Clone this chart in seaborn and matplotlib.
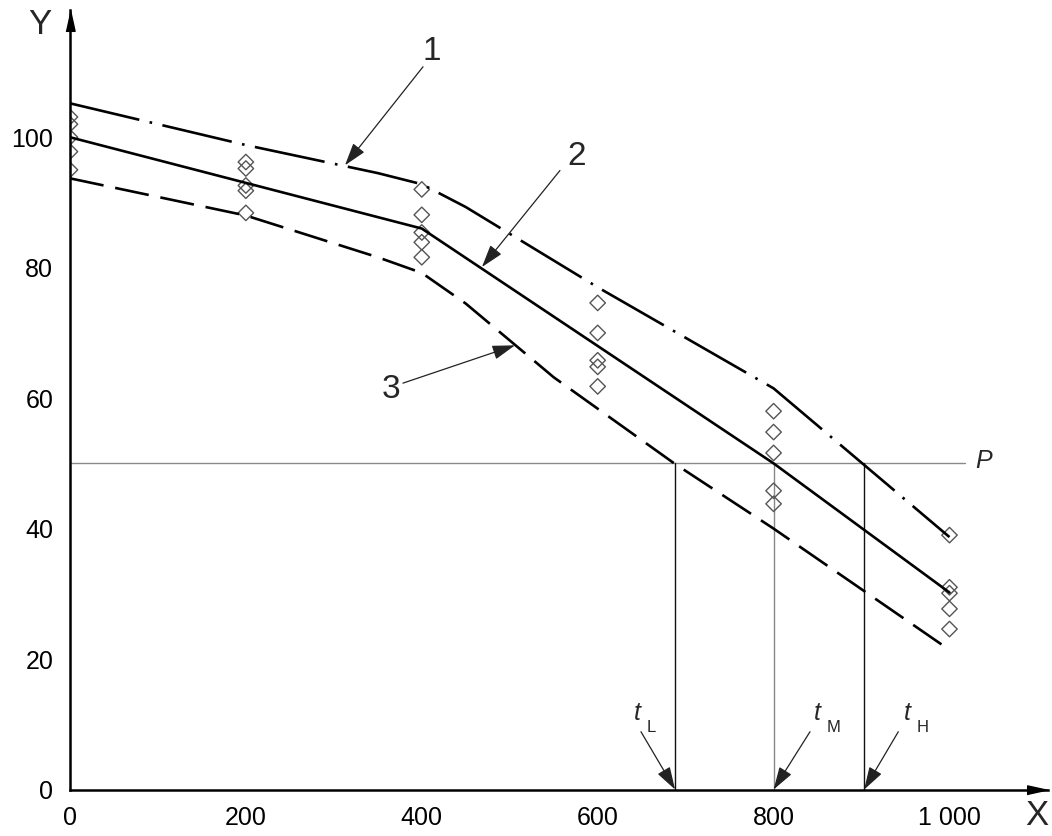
import numpy as np
import pandas as pd
import matplotlib
matplotlib.use("Agg")
import matplotlib.pyplot as plt
import seaborn as sns

# ---------------- data ----------------
curve1_x = [0, 200, 350, 400, 450, 600, 800, 1000]
curve1_y = [105.2, 98.8, 94.5, 92.8, 89.3, 77.0, 61.5, 38.7]
curve2_x = [0, 200, 400, 600, 800, 1000]
curve2_y = [100.0, 93.0, 86.0, 68.0, 50.0, 30.2]
curve3_x = [0, 200, 350, 400, 450, 550, 687, 800, 1000]
curve3_y = [93.7, 88.0, 81.6, 79.2, 74.5, 63.2, 50.0, 40.0, 21.4]

point_x = [0] * 5 + [200] * 5 + [400] * 5 + [600] * 5 + [800] * 5 + [1000] * 5
point_y = [103.1, 102.0, 100.0, 97.8, 95.0,
           96.2, 95.2, 92.6, 91.8, 88.4,
           92.0, 88.1, 85.4, 83.9, 81.6,
           74.6, 70.0, 65.8, 64.8, 61.8,
           58.0, 54.8, 51.6, 45.8, 43.8,
           39.0, 31.0, 30.1, 27.7, 24.6]

p_level = 50
t_names = ["L", "M", "H"]
t_values = [688, 800, 903]
t_colors = ["#111111", "#888888", "#111111"]

x_major = [0, 200, 400, 600, 800, 1000]
x_labels = ["0", "200", "400", "600", "800", "1 000"]
y_major = [0, 20, 40, 60, 80, 100]
y_labels = ["0", "20", "40", "60", "80", "100"]

# ---------------- style ----------------
sns.set_style("white")
plt.rcParams["font.family"] = ["Liberation Sans", "DejaVu Sans"]

fig = plt.figure(figsize=(10.52, 8.36), dpi=100)
ax = fig.add_axes([0.0665, 0.0556, 0.9297, 0.9324])
XMAX, YMAX = 1112, 119.5
ax.set_xlim(0, XMAX)
ax.set_ylim(0, YMAX)

df = pd.concat([
    pd.DataFrame({"x": curve1_x, "y": curve1_y, "curve": "1"}),
    pd.DataFrame({"x": curve2_x, "y": curve2_y, "curve": "2"}),
    pd.DataFrame({"x": curve3_x, "y": curve3_y, "curve": "3"}),
])

# reference P line and t verticals (behind)
ax.plot([0, 1018], [p_level, p_level], color="#8a8a8a", lw=1.0, zorder=1)
for tv, tc in zip(t_values, t_colors):
    ax.plot([tv, tv], [0, p_level], color=tc, lw=1.0, zorder=1)

sns.scatterplot(x=point_x, y=point_y, ax=ax, marker="D", s=62,
                facecolor="none", edgecolor="#555555", linewidth=1.0,
                zorder=2, legend=False)

sns.lineplot(data=df, x="x", y="y", style="curve",
             dashes={"1": (27, 4, 1, 4), "2": "", "3": (13, 4.5)},
             color="black", lw=1.9, estimator=None, sort=False,
             legend=False, ax=ax, zorder=3)

# ---------------- axes ----------------
for s in ["top", "right"]:
    ax.spines[s].set_visible(False)
for s in ["left", "bottom"]:
    ax.spines[s].set_linewidth(1.8)
    ax.spines[s].set_color("black")

ax.set_xticks(x_major)
ax.set_xticklabels(x_labels)
ax.set_xticks([100, 300, 500, 700, 900], minor=True)
ax.set_yticks(y_major)
ax.set_yticklabels(y_labels)
ax.set_yticks([10, 30, 50, 70, 90, 110], minor=True)
ax.tick_params(which="major", direction="in", length=11, width=1.1,
               labelsize=18, colors="black")
ax.tick_params(which="minor", direction="in", length=6, width=1.1)
ax.tick_params(axis="x", which="major", pad=12)
ax.tick_params(axis="y", which="major", pad=12)
ax.set_xlabel("")
ax.set_ylabel("")

# axis arrowheads
up = [(-0.22, -1), (0.22, -1), (0, 0)]
right = [(-1, -0.22), (-1, 0.22), (0, 0)]
ax.plot([0], [YMAX], marker=up, ms=30, color="black", clip_on=False, zorder=5)
ax.plot([XMAX], [0], marker=right, ms=30, color="black", clip_on=False, zorder=5)

ax.text(-34, 117.3, "Y", fontsize=25, ha="center", va="center")
ax.text(1099, -4.0, "X", fontsize=25, ha="center", va="center", clip_on=False)

# callouts
arrow_kw = dict(arrowstyle="-|>,head_length=0.7,head_width=0.22",
                color="#222222", lw=0.9, shrinkA=0, shrinkB=0,
                mutation_scale=20)
callouts = [("1", (411.6, 113.2), (401.4, 110.8), (312.7, 95.7)),
            ("2", (576.5, 97.0), (557.1, 94.9), (468.4, 80.1)),
            ("3", (365.0, 61.3), (378.6, 62.3), (506.0, 68.1))]
for lab, tpos, start, tip in callouts:
    ax.text(*tpos, lab, fontsize=24, ha="center", va="center")
    ax.annotate("", xy=tip, xytext=start, arrowprops=arrow_kw)

ax.text(1039, 50.4, "P", fontsize=18, style="italic", ha="center", va="center")

t_text_x = [645.3, 850.0, 952.2]
t_sub_x = [661.4, 868.6, 969.3]
t_start_x = [649.2, 841.4, 941.8]
for name, tv, tx, sx, st in zip(t_names, t_values, t_text_x, t_sub_x, t_start_x):
    ax.text(tx, 11.7, "t", fontsize=18, style="italic", ha="center", va="center")
    ax.text(sx, 9.5, name, fontsize=12, ha="center", va="center")
    ax.annotate("", xy=(tv, 0), xytext=(st, 8.86), arrowprops=arrow_kw)

fig.savefig("out.png", dpi=100)
